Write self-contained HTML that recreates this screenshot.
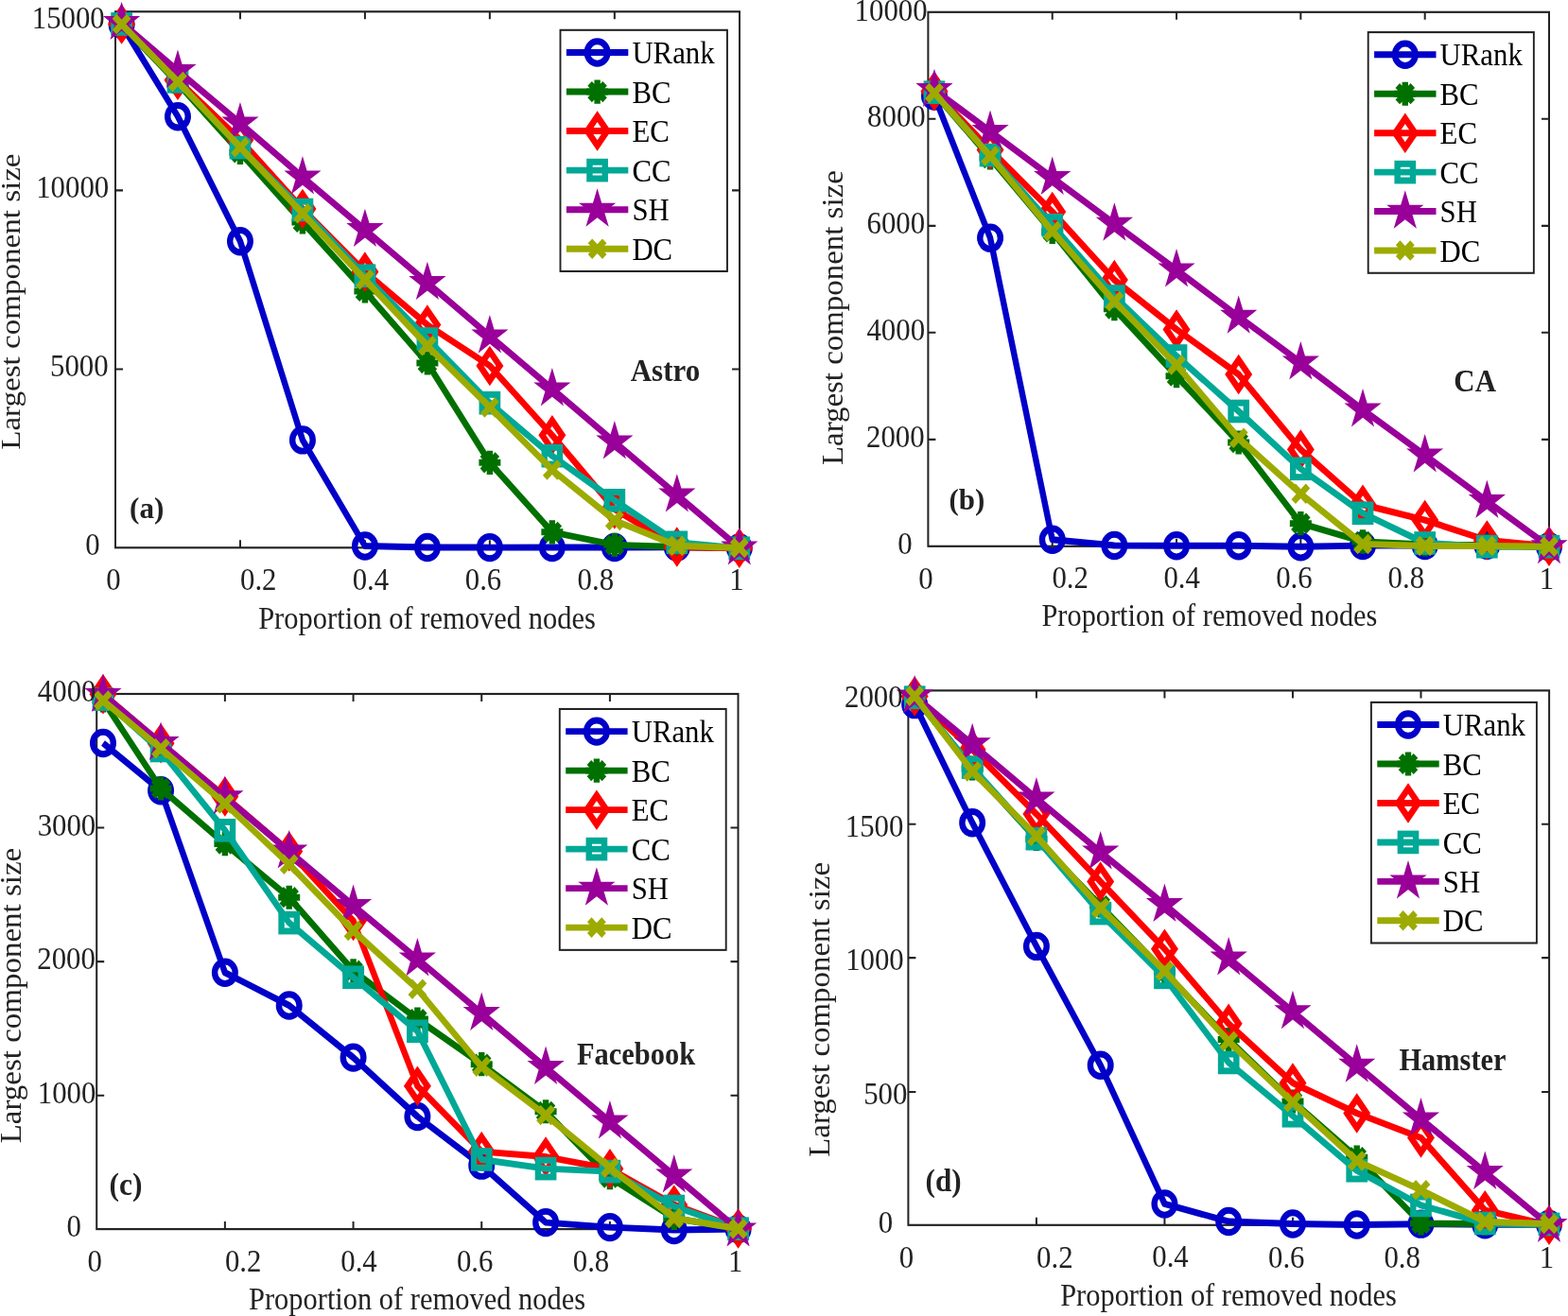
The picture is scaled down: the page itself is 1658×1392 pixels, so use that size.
<!DOCTYPE html><html><head><meta charset="utf-8"><style>html,body{margin:0;padding:0;background:#fff;}svg{display:block;}</style></head><body><svg xmlns="http://www.w3.org/2000/svg" width="1658" height="1392" viewBox="0 0 1658 1392"><rect width="1658" height="1392" fill="#fff"/><g transform="scale(1,1.085)" font-family="Liberation Serif, Times New Roman, serif" fill="#222222"><rect x="122" y="11.34" width="660.00" height="522.58" fill="none" stroke="#222222" stroke-width="2"/>
<path d="M253.96,533.92v-7.37M253.96,11.34v7.37" stroke="#222222" stroke-width="2"/>
<path d="M385.92,533.92v-7.37M385.92,11.34v7.37" stroke="#222222" stroke-width="2"/>
<path d="M517.88,533.92v-7.37M517.88,11.34v7.37" stroke="#222222" stroke-width="2"/>
<path d="M649.84,533.92v-7.37M649.84,11.34v7.37" stroke="#222222" stroke-width="2"/>
<path d="M122,359.91h8M782.0,359.91h-8" stroke="#222222" stroke-width="2"/>
<path d="M122,185.62h8M782.0,185.62h-8" stroke="#222222" stroke-width="2"/>
<polyline points="128.60,23.96 187.98,113.55 253.96,235.21 319.94,428.94 385.92,532.26 451.90,533.64 517.88,533.73 583.86,533.64 649.84,533.64 715.82,533.46 781.80,534.10" fill="none" stroke="#0000c8" stroke-width="6.4" stroke-linejoin="round"/>
<g transform="translate(128.60,23.96)"><circle r="10.8" fill="none" stroke="#0000c8" stroke-width="6.4"/></g>
<g transform="translate(187.98,113.55)"><circle r="10.8" fill="none" stroke="#0000c8" stroke-width="6.4"/></g>
<g transform="translate(253.96,235.21)"><circle r="10.8" fill="none" stroke="#0000c8" stroke-width="6.4"/></g>
<g transform="translate(319.94,428.94)"><circle r="10.8" fill="none" stroke="#0000c8" stroke-width="6.4"/></g>
<g transform="translate(385.92,532.26)"><circle r="10.8" fill="none" stroke="#0000c8" stroke-width="6.4"/></g>
<g transform="translate(451.90,533.64)"><circle r="10.8" fill="none" stroke="#0000c8" stroke-width="6.4"/></g>
<g transform="translate(517.88,533.73)"><circle r="10.8" fill="none" stroke="#0000c8" stroke-width="6.4"/></g>
<g transform="translate(583.86,533.64)"><circle r="10.8" fill="none" stroke="#0000c8" stroke-width="6.4"/></g>
<g transform="translate(649.84,533.64)"><circle r="10.8" fill="none" stroke="#0000c8" stroke-width="6.4"/></g>
<g transform="translate(715.82,533.46)"><circle r="10.8" fill="none" stroke="#0000c8" stroke-width="6.4"/></g>
<g transform="translate(781.80,534.10)"><circle r="10.8" fill="none" stroke="#0000c8" stroke-width="6.4"/></g>
<polyline points="128.60,23.96 187.98,81.11 253.96,148.66 319.94,216.59 385.92,283.87 451.90,353.92 517.88,450.97 583.86,518.71 649.84,531.24 715.82,533.18 781.80,534.10" fill="none" stroke="#007000" stroke-width="6.4" stroke-linejoin="round"/>
<g transform="translate(128.60,23.96)"><path d="M0,-11.6V11.6M-11.5,0H11.5M-7.99,-7.99L7.99,7.99M-7.99,7.99L7.99,-7.99" stroke="#007000" stroke-width="6.4" fill="none"/></g>
<g transform="translate(187.98,81.11)"><path d="M0,-11.6V11.6M-11.5,0H11.5M-7.99,-7.99L7.99,7.99M-7.99,7.99L7.99,-7.99" stroke="#007000" stroke-width="6.4" fill="none"/></g>
<g transform="translate(253.96,148.66)"><path d="M0,-11.6V11.6M-11.5,0H11.5M-7.99,-7.99L7.99,7.99M-7.99,7.99L7.99,-7.99" stroke="#007000" stroke-width="6.4" fill="none"/></g>
<g transform="translate(319.94,216.59)"><path d="M0,-11.6V11.6M-11.5,0H11.5M-7.99,-7.99L7.99,7.99M-7.99,7.99L7.99,-7.99" stroke="#007000" stroke-width="6.4" fill="none"/></g>
<g transform="translate(385.92,283.87)"><path d="M0,-11.6V11.6M-11.5,0H11.5M-7.99,-7.99L7.99,7.99M-7.99,7.99L7.99,-7.99" stroke="#007000" stroke-width="6.4" fill="none"/></g>
<g transform="translate(451.90,353.92)"><path d="M0,-11.6V11.6M-11.5,0H11.5M-7.99,-7.99L7.99,7.99M-7.99,7.99L7.99,-7.99" stroke="#007000" stroke-width="6.4" fill="none"/></g>
<g transform="translate(517.88,450.97)"><path d="M0,-11.6V11.6M-11.5,0H11.5M-7.99,-7.99L7.99,7.99M-7.99,7.99L7.99,-7.99" stroke="#007000" stroke-width="6.4" fill="none"/></g>
<g transform="translate(583.86,518.71)"><path d="M0,-11.6V11.6M-11.5,0H11.5M-7.99,-7.99L7.99,7.99M-7.99,7.99L7.99,-7.99" stroke="#007000" stroke-width="6.4" fill="none"/></g>
<g transform="translate(649.84,531.24)"><path d="M0,-11.6V11.6M-11.5,0H11.5M-7.99,-7.99L7.99,7.99M-7.99,7.99L7.99,-7.99" stroke="#007000" stroke-width="6.4" fill="none"/></g>
<g transform="translate(715.82,533.18)"><path d="M0,-11.6V11.6M-11.5,0H11.5M-7.99,-7.99L7.99,7.99M-7.99,7.99L7.99,-7.99" stroke="#007000" stroke-width="6.4" fill="none"/></g>
<g transform="translate(781.80,534.10)"><path d="M0,-11.6V11.6M-11.5,0H11.5M-7.99,-7.99L7.99,7.99M-7.99,7.99L7.99,-7.99" stroke="#007000" stroke-width="6.4" fill="none"/></g>
<polyline points="128.60,23.59 187.98,78.16 253.96,136.41 319.94,203.69 385.92,265.07 451.90,316.68 517.88,356.59 583.86,424.24 649.84,496.31 715.82,533.27 781.80,534.38" fill="none" stroke="#ff0000" stroke-width="6.4" stroke-linejoin="round"/>
<g transform="translate(128.60,23.59)"><path d="M0,-14.2L10.5,0L0,14.2L-10.5,0Z" fill="none" stroke="#ff0000" stroke-width="6.4" stroke-linejoin="miter" stroke-miterlimit="10"/></g>
<g transform="translate(187.98,78.16)"><path d="M0,-14.2L10.5,0L0,14.2L-10.5,0Z" fill="none" stroke="#ff0000" stroke-width="6.4" stroke-linejoin="miter" stroke-miterlimit="10"/></g>
<g transform="translate(253.96,136.41)"><path d="M0,-14.2L10.5,0L0,14.2L-10.5,0Z" fill="none" stroke="#ff0000" stroke-width="6.4" stroke-linejoin="miter" stroke-miterlimit="10"/></g>
<g transform="translate(319.94,203.69)"><path d="M0,-14.2L10.5,0L0,14.2L-10.5,0Z" fill="none" stroke="#ff0000" stroke-width="6.4" stroke-linejoin="miter" stroke-miterlimit="10"/></g>
<g transform="translate(385.92,265.07)"><path d="M0,-14.2L10.5,0L0,14.2L-10.5,0Z" fill="none" stroke="#ff0000" stroke-width="6.4" stroke-linejoin="miter" stroke-miterlimit="10"/></g>
<g transform="translate(451.90,316.68)"><path d="M0,-14.2L10.5,0L0,14.2L-10.5,0Z" fill="none" stroke="#ff0000" stroke-width="6.4" stroke-linejoin="miter" stroke-miterlimit="10"/></g>
<g transform="translate(517.88,356.59)"><path d="M0,-14.2L10.5,0L0,14.2L-10.5,0Z" fill="none" stroke="#ff0000" stroke-width="6.4" stroke-linejoin="miter" stroke-miterlimit="10"/></g>
<g transform="translate(583.86,424.24)"><path d="M0,-14.2L10.5,0L0,14.2L-10.5,0Z" fill="none" stroke="#ff0000" stroke-width="6.4" stroke-linejoin="miter" stroke-miterlimit="10"/></g>
<g transform="translate(649.84,496.31)"><path d="M0,-14.2L10.5,0L0,14.2L-10.5,0Z" fill="none" stroke="#ff0000" stroke-width="6.4" stroke-linejoin="miter" stroke-miterlimit="10"/></g>
<g transform="translate(715.82,533.27)"><path d="M0,-14.2L10.5,0L0,14.2L-10.5,0Z" fill="none" stroke="#ff0000" stroke-width="6.4" stroke-linejoin="miter" stroke-miterlimit="10"/></g>
<g transform="translate(781.80,534.38)"><path d="M0,-14.2L10.5,0L0,14.2L-10.5,0Z" fill="none" stroke="#ff0000" stroke-width="6.4" stroke-linejoin="miter" stroke-miterlimit="10"/></g>
<polyline points="128.60,23.41 187.98,79.54 253.96,143.87 319.94,204.61 385.92,268.85 451.90,330.41 517.88,392.81 583.86,444.42 649.84,487.83 715.82,528.85 781.80,534.38" fill="none" stroke="#00a896" stroke-width="6.4" stroke-linejoin="round"/>
<g transform="translate(128.60,23.41)"><rect x="-8.15" y="-8.15" width="16.3" height="16.3" fill="none" stroke="#00a896" stroke-width="6.4"/></g>
<g transform="translate(187.98,79.54)"><rect x="-8.15" y="-8.15" width="16.3" height="16.3" fill="none" stroke="#00a896" stroke-width="6.4"/></g>
<g transform="translate(253.96,143.87)"><rect x="-8.15" y="-8.15" width="16.3" height="16.3" fill="none" stroke="#00a896" stroke-width="6.4"/></g>
<g transform="translate(319.94,204.61)"><rect x="-8.15" y="-8.15" width="16.3" height="16.3" fill="none" stroke="#00a896" stroke-width="6.4"/></g>
<g transform="translate(385.92,268.85)"><rect x="-8.15" y="-8.15" width="16.3" height="16.3" fill="none" stroke="#00a896" stroke-width="6.4"/></g>
<g transform="translate(451.90,330.41)"><rect x="-8.15" y="-8.15" width="16.3" height="16.3" fill="none" stroke="#00a896" stroke-width="6.4"/></g>
<g transform="translate(517.88,392.81)"><rect x="-8.15" y="-8.15" width="16.3" height="16.3" fill="none" stroke="#00a896" stroke-width="6.4"/></g>
<g transform="translate(583.86,444.42)"><rect x="-8.15" y="-8.15" width="16.3" height="16.3" fill="none" stroke="#00a896" stroke-width="6.4"/></g>
<g transform="translate(649.84,487.83)"><rect x="-8.15" y="-8.15" width="16.3" height="16.3" fill="none" stroke="#00a896" stroke-width="6.4"/></g>
<g transform="translate(715.82,528.85)"><rect x="-8.15" y="-8.15" width="16.3" height="16.3" fill="none" stroke="#00a896" stroke-width="6.4"/></g>
<g transform="translate(781.80,534.38)"><rect x="-8.15" y="-8.15" width="16.3" height="16.3" fill="none" stroke="#00a896" stroke-width="6.4"/></g>
<polyline points="128.60,22.12 187.98,68.94 253.96,120.09 319.94,172.63 385.92,223.96 451.90,275.58 517.88,327.47 583.86,379.08 649.84,430.78 715.82,482.49 781.80,534.10" fill="none" stroke="#990099" stroke-width="6.4" stroke-linejoin="round"/>
<g transform="translate(128.60,22.12)"><polygon points="0.00,-20.60 -4.62,-6.37 -19.59,-6.37 -7.48,2.43 -12.11,16.67 -0.00,7.87 12.11,16.67 7.48,2.43 19.59,-6.37 4.62,-6.37" fill="#990099"/></g>
<g transform="translate(187.98,68.94)"><polygon points="0.00,-20.60 -4.62,-6.37 -19.59,-6.37 -7.48,2.43 -12.11,16.67 -0.00,7.87 12.11,16.67 7.48,2.43 19.59,-6.37 4.62,-6.37" fill="#990099"/></g>
<g transform="translate(253.96,120.09)"><polygon points="0.00,-20.60 -4.62,-6.37 -19.59,-6.37 -7.48,2.43 -12.11,16.67 -0.00,7.87 12.11,16.67 7.48,2.43 19.59,-6.37 4.62,-6.37" fill="#990099"/></g>
<g transform="translate(319.94,172.63)"><polygon points="0.00,-20.60 -4.62,-6.37 -19.59,-6.37 -7.48,2.43 -12.11,16.67 -0.00,7.87 12.11,16.67 7.48,2.43 19.59,-6.37 4.62,-6.37" fill="#990099"/></g>
<g transform="translate(385.92,223.96)"><polygon points="0.00,-20.60 -4.62,-6.37 -19.59,-6.37 -7.48,2.43 -12.11,16.67 -0.00,7.87 12.11,16.67 7.48,2.43 19.59,-6.37 4.62,-6.37" fill="#990099"/></g>
<g transform="translate(451.90,275.58)"><polygon points="0.00,-20.60 -4.62,-6.37 -19.59,-6.37 -7.48,2.43 -12.11,16.67 -0.00,7.87 12.11,16.67 7.48,2.43 19.59,-6.37 4.62,-6.37" fill="#990099"/></g>
<g transform="translate(517.88,327.47)"><polygon points="0.00,-20.60 -4.62,-6.37 -19.59,-6.37 -7.48,2.43 -12.11,16.67 -0.00,7.87 12.11,16.67 7.48,2.43 19.59,-6.37 4.62,-6.37" fill="#990099"/></g>
<g transform="translate(583.86,379.08)"><polygon points="0.00,-20.60 -4.62,-6.37 -19.59,-6.37 -7.48,2.43 -12.11,16.67 -0.00,7.87 12.11,16.67 7.48,2.43 19.59,-6.37 4.62,-6.37" fill="#990099"/></g>
<g transform="translate(649.84,430.78)"><polygon points="0.00,-20.60 -4.62,-6.37 -19.59,-6.37 -7.48,2.43 -12.11,16.67 -0.00,7.87 12.11,16.67 7.48,2.43 19.59,-6.37 4.62,-6.37" fill="#990099"/></g>
<g transform="translate(715.82,482.49)"><polygon points="0.00,-20.60 -4.62,-6.37 -19.59,-6.37 -7.48,2.43 -12.11,16.67 -0.00,7.87 12.11,16.67 7.48,2.43 19.59,-6.37 4.62,-6.37" fill="#990099"/></g>
<g transform="translate(781.80,534.10)"><polygon points="0.00,-20.60 -4.62,-6.37 -19.59,-6.37 -7.48,2.43 -12.11,16.67 -0.00,7.87 12.11,16.67 7.48,2.43 19.59,-6.37 4.62,-6.37" fill="#990099"/></g>
<polyline points="128.60,23.59 187.98,79.63 253.96,143.59 319.94,208.11 385.92,272.63 451.90,337.14 517.88,397.14 583.86,458.06 649.84,507.28 715.82,532.07 781.80,534.10" fill="none" stroke="#9dab00" stroke-width="6.4" stroke-linejoin="round"/>
<g transform="translate(128.60,23.59)"><path d="M-7.65,-7.65L7.65,7.65M-7.65,7.65L7.65,-7.65" stroke="#9dab00" stroke-width="6.4" fill="none"/></g>
<g transform="translate(187.98,79.63)"><path d="M-7.65,-7.65L7.65,7.65M-7.65,7.65L7.65,-7.65" stroke="#9dab00" stroke-width="6.4" fill="none"/></g>
<g transform="translate(253.96,143.59)"><path d="M-7.65,-7.65L7.65,7.65M-7.65,7.65L7.65,-7.65" stroke="#9dab00" stroke-width="6.4" fill="none"/></g>
<g transform="translate(319.94,208.11)"><path d="M-7.65,-7.65L7.65,7.65M-7.65,7.65L7.65,-7.65" stroke="#9dab00" stroke-width="6.4" fill="none"/></g>
<g transform="translate(385.92,272.63)"><path d="M-7.65,-7.65L7.65,7.65M-7.65,7.65L7.65,-7.65" stroke="#9dab00" stroke-width="6.4" fill="none"/></g>
<g transform="translate(451.90,337.14)"><path d="M-7.65,-7.65L7.65,7.65M-7.65,7.65L7.65,-7.65" stroke="#9dab00" stroke-width="6.4" fill="none"/></g>
<g transform="translate(517.88,397.14)"><path d="M-7.65,-7.65L7.65,7.65M-7.65,7.65L7.65,-7.65" stroke="#9dab00" stroke-width="6.4" fill="none"/></g>
<g transform="translate(583.86,458.06)"><path d="M-7.65,-7.65L7.65,7.65M-7.65,7.65L7.65,-7.65" stroke="#9dab00" stroke-width="6.4" fill="none"/></g>
<g transform="translate(649.84,507.28)"><path d="M-7.65,-7.65L7.65,7.65M-7.65,7.65L7.65,-7.65" stroke="#9dab00" stroke-width="6.4" fill="none"/></g>
<g transform="translate(715.82,532.07)"><path d="M-7.65,-7.65L7.65,7.65M-7.65,7.65L7.65,-7.65" stroke="#9dab00" stroke-width="6.4" fill="none"/></g>
<g transform="translate(781.80,534.10)"><path d="M-7.65,-7.65L7.65,7.65M-7.65,7.65L7.65,-7.65" stroke="#9dab00" stroke-width="6.4" fill="none"/></g>
<rect x="592.5" y="29.31" width="176.45" height="235.16" fill="#fff" stroke="#222222" stroke-width="1.9"/>
<path d="M598.90,51.16H664.30" stroke="#0000c8" stroke-width="6.4"/>
<g transform="translate(631.60,51.16)"><circle r="10.8" fill="none" stroke="#0000c8" stroke-width="6.4"/></g>
<text transform="translate(668.38,61.94) scale(1.0,1)" font-size="30.8" fill="#000">URank</text>
<path d="M598.90,89.44H664.30" stroke="#007000" stroke-width="6.4"/>
<g transform="translate(631.60,89.44)"><path d="M0,-11.6V11.6M-11.5,0H11.5M-7.99,-7.99L7.99,7.99M-7.99,7.99L7.99,-7.99" stroke="#007000" stroke-width="6.4" fill="none"/></g>
<text transform="translate(668.38,100.22) scale(1.0,1)" font-size="30.8" fill="#000">BC</text>
<path d="M598.90,127.72H664.30" stroke="#ff0000" stroke-width="6.4"/>
<g transform="translate(631.60,127.72)"><path d="M0,-14.2L10.5,0L0,14.2L-10.5,0Z" fill="none" stroke="#ff0000" stroke-width="6.4" stroke-linejoin="miter" stroke-miterlimit="10"/></g>
<text transform="translate(668.38,138.51) scale(1.0,1)" font-size="30.8" fill="#000">EC</text>
<path d="M598.90,166.01H664.30" stroke="#00a896" stroke-width="6.4"/>
<g transform="translate(631.60,166.01)"><rect x="-8.15" y="-8.15" width="16.3" height="16.3" fill="none" stroke="#00a896" stroke-width="6.4"/></g>
<text transform="translate(668.38,176.79) scale(1.0,1)" font-size="30.8" fill="#000">CC</text>
<path d="M598.90,204.29H664.30" stroke="#990099" stroke-width="6.4"/>
<g transform="translate(631.60,204.29)"><polygon points="0.00,-20.60 -4.62,-6.37 -19.59,-6.37 -7.48,2.43 -12.11,16.67 -0.00,7.87 12.11,16.67 7.48,2.43 19.59,-6.37 4.62,-6.37" fill="#990099"/></g>
<text transform="translate(668.38,215.08) scale(1.0,1)" font-size="30.8" fill="#000">SH</text>
<path d="M598.90,242.58H664.30" stroke="#9dab00" stroke-width="6.4"/>
<g transform="translate(631.60,242.58)"><path d="M-7.65,-7.65L7.65,7.65M-7.65,7.65L7.65,-7.65" stroke="#9dab00" stroke-width="6.4" fill="none"/></g>
<text transform="translate(668.38,253.36) scale(1.0,1)" font-size="30.8" fill="#000">DC</text>
<text transform="translate(33.77,27.31) scale(0.975,1)" font-size="31.6">15000</text>
<text transform="translate(38.21,192.78) scale(0.975,1)" font-size="31.6">10000</text>
<text transform="translate(52.98,367.26) scale(0.975,1)" font-size="31.6">5000</text>
<text transform="translate(90.20,541.46) scale(0.975,1)" font-size="31.6">0</text>
<text transform="translate(112.20,575.42) scale(0.975,1)" font-size="31.6">0</text>
<text transform="translate(254.01,575.06) scale(0.975,1)" font-size="31.6">0.2</text>
<text transform="translate(372.65,575.06) scale(0.975,1)" font-size="31.6">0.4</text>
<text transform="translate(491.73,574.92) scale(0.975,1)" font-size="31.6">0.6</text>
<text transform="translate(610.54,575.06) scale(0.975,1)" font-size="31.6">0.8</text>
<text transform="translate(771.32,575.22) scale(0.975,1)" font-size="31.6">1</text>
<text transform="translate(273.13,612.49) scale(0.9835,1)" font-size="31.03" font-weight="normal" >Proportion of removed nodes</text>
<text transform="translate(137.10,505.24) scale(1.0520,1)" font-size="29.55" font-weight="bold" >(a)</text>
<text transform="translate(666.74,371.24) scale(0.9816,1)" font-size="31.56" font-weight="bold" >Astro</text>
<text transform="translate(21.10,438.52) rotate(-90) scale(0.9995,1)" font-size="30.49">Largest component size</text>
<rect x="981.4" y="11.80" width="656.60" height="520.74" fill="none" stroke="#222222" stroke-width="2"/>
<path d="M1112.72,532.53v-7.37M1112.72,11.80v7.37" stroke="#222222" stroke-width="2"/>
<path d="M1244.04,532.53v-7.37M1244.04,11.80v7.37" stroke="#222222" stroke-width="2"/>
<path d="M1375.36,532.53v-7.37M1375.36,11.80v7.37" stroke="#222222" stroke-width="2"/>
<path d="M1506.68,532.53v-7.37M1506.68,11.80v7.37" stroke="#222222" stroke-width="2"/>
<path d="M981.4,428.48h8M1638,428.48h-8" stroke="#222222" stroke-width="2"/>
<path d="M981.4,324.19h8M1638,324.19h-8" stroke="#222222" stroke-width="2"/>
<path d="M981.4,220.18h8M1638,220.18h-8" stroke="#222222" stroke-width="2"/>
<path d="M981.4,115.90h8M1638,115.90h-8" stroke="#222222" stroke-width="2"/>
<polyline points="987.97,93.55 1047.06,231.94 1112.72,526.08 1178.38,531.80 1244.04,531.98 1309.70,531.98 1375.36,532.90 1441.02,531.89 1506.68,531.89 1572.34,531.52 1638.00,532.90" fill="none" stroke="#0000c8" stroke-width="6.4" stroke-linejoin="round"/>
<g transform="translate(987.97,93.55)"><circle r="10.8" fill="none" stroke="#0000c8" stroke-width="6.4"/></g>
<g transform="translate(1047.06,231.94)"><circle r="10.8" fill="none" stroke="#0000c8" stroke-width="6.4"/></g>
<g transform="translate(1112.72,526.08)"><circle r="10.8" fill="none" stroke="#0000c8" stroke-width="6.4"/></g>
<g transform="translate(1178.38,531.80)"><circle r="10.8" fill="none" stroke="#0000c8" stroke-width="6.4"/></g>
<g transform="translate(1244.04,531.98)"><circle r="10.8" fill="none" stroke="#0000c8" stroke-width="6.4"/></g>
<g transform="translate(1309.70,531.98)"><circle r="10.8" fill="none" stroke="#0000c8" stroke-width="6.4"/></g>
<g transform="translate(1375.36,532.90)"><circle r="10.8" fill="none" stroke="#0000c8" stroke-width="6.4"/></g>
<g transform="translate(1441.02,531.89)"><circle r="10.8" fill="none" stroke="#0000c8" stroke-width="6.4"/></g>
<g transform="translate(1506.68,531.89)"><circle r="10.8" fill="none" stroke="#0000c8" stroke-width="6.4"/></g>
<g transform="translate(1572.34,531.52)"><circle r="10.8" fill="none" stroke="#0000c8" stroke-width="6.4"/></g>
<g transform="translate(1638.00,532.90)"><circle r="10.8" fill="none" stroke="#0000c8" stroke-width="6.4"/></g>
<polyline points="987.97,90.78 1047.06,153.92 1112.72,226.08 1178.38,301.15 1244.04,366.54 1309.70,431.34 1375.36,510.32 1441.02,528.06 1506.68,530.88 1572.34,531.80 1638.00,532.90" fill="none" stroke="#007000" stroke-width="6.4" stroke-linejoin="round"/>
<g transform="translate(987.97,90.78)"><path d="M0,-11.6V11.6M-11.5,0H11.5M-7.99,-7.99L7.99,7.99M-7.99,7.99L7.99,-7.99" stroke="#007000" stroke-width="6.4" fill="none"/></g>
<g transform="translate(1047.06,153.92)"><path d="M0,-11.6V11.6M-11.5,0H11.5M-7.99,-7.99L7.99,7.99M-7.99,7.99L7.99,-7.99" stroke="#007000" stroke-width="6.4" fill="none"/></g>
<g transform="translate(1112.72,226.08)"><path d="M0,-11.6V11.6M-11.5,0H11.5M-7.99,-7.99L7.99,7.99M-7.99,7.99L7.99,-7.99" stroke="#007000" stroke-width="6.4" fill="none"/></g>
<g transform="translate(1178.38,301.15)"><path d="M0,-11.6V11.6M-11.5,0H11.5M-7.99,-7.99L7.99,7.99M-7.99,7.99L7.99,-7.99" stroke="#007000" stroke-width="6.4" fill="none"/></g>
<g transform="translate(1244.04,366.54)"><path d="M0,-11.6V11.6M-11.5,0H11.5M-7.99,-7.99L7.99,7.99M-7.99,7.99L7.99,-7.99" stroke="#007000" stroke-width="6.4" fill="none"/></g>
<g transform="translate(1309.70,431.34)"><path d="M0,-11.6V11.6M-11.5,0H11.5M-7.99,-7.99L7.99,7.99M-7.99,7.99L7.99,-7.99" stroke="#007000" stroke-width="6.4" fill="none"/></g>
<g transform="translate(1375.36,510.32)"><path d="M0,-11.6V11.6M-11.5,0H11.5M-7.99,-7.99L7.99,7.99M-7.99,7.99L7.99,-7.99" stroke="#007000" stroke-width="6.4" fill="none"/></g>
<g transform="translate(1441.02,528.06)"><path d="M0,-11.6V11.6M-11.5,0H11.5M-7.99,-7.99L7.99,7.99M-7.99,7.99L7.99,-7.99" stroke="#007000" stroke-width="6.4" fill="none"/></g>
<g transform="translate(1506.68,530.88)"><path d="M0,-11.6V11.6M-11.5,0H11.5M-7.99,-7.99L7.99,7.99M-7.99,7.99L7.99,-7.99" stroke="#007000" stroke-width="6.4" fill="none"/></g>
<g transform="translate(1572.34,531.80)"><path d="M0,-11.6V11.6M-11.5,0H11.5M-7.99,-7.99L7.99,7.99M-7.99,7.99L7.99,-7.99" stroke="#007000" stroke-width="6.4" fill="none"/></g>
<g transform="translate(1638.00,532.90)"><path d="M0,-11.6V11.6M-11.5,0H11.5M-7.99,-7.99L7.99,7.99M-7.99,7.99L7.99,-7.99" stroke="#007000" stroke-width="6.4" fill="none"/></g>
<polyline points="987.97,88.94 1047.06,145.99 1112.72,206.45 1178.38,272.90 1244.04,321.11 1309.70,364.98 1375.36,438.25 1441.02,491.94 1506.68,507.00 1572.34,526.77 1638.00,532.44" fill="none" stroke="#ff0000" stroke-width="6.4" stroke-linejoin="round"/>
<g transform="translate(987.97,88.94)"><path d="M0,-14.2L10.5,0L0,14.2L-10.5,0Z" fill="none" stroke="#ff0000" stroke-width="6.4" stroke-linejoin="miter" stroke-miterlimit="10"/></g>
<g transform="translate(1047.06,145.99)"><path d="M0,-14.2L10.5,0L0,14.2L-10.5,0Z" fill="none" stroke="#ff0000" stroke-width="6.4" stroke-linejoin="miter" stroke-miterlimit="10"/></g>
<g transform="translate(1112.72,206.45)"><path d="M0,-14.2L10.5,0L0,14.2L-10.5,0Z" fill="none" stroke="#ff0000" stroke-width="6.4" stroke-linejoin="miter" stroke-miterlimit="10"/></g>
<g transform="translate(1178.38,272.90)"><path d="M0,-14.2L10.5,0L0,14.2L-10.5,0Z" fill="none" stroke="#ff0000" stroke-width="6.4" stroke-linejoin="miter" stroke-miterlimit="10"/></g>
<g transform="translate(1244.04,321.11)"><path d="M0,-14.2L10.5,0L0,14.2L-10.5,0Z" fill="none" stroke="#ff0000" stroke-width="6.4" stroke-linejoin="miter" stroke-miterlimit="10"/></g>
<g transform="translate(1309.70,364.98)"><path d="M0,-14.2L10.5,0L0,14.2L-10.5,0Z" fill="none" stroke="#ff0000" stroke-width="6.4" stroke-linejoin="miter" stroke-miterlimit="10"/></g>
<g transform="translate(1375.36,438.25)"><path d="M0,-14.2L10.5,0L0,14.2L-10.5,0Z" fill="none" stroke="#ff0000" stroke-width="6.4" stroke-linejoin="miter" stroke-miterlimit="10"/></g>
<g transform="translate(1441.02,491.94)"><path d="M0,-14.2L10.5,0L0,14.2L-10.5,0Z" fill="none" stroke="#ff0000" stroke-width="6.4" stroke-linejoin="miter" stroke-miterlimit="10"/></g>
<g transform="translate(1506.68,507.00)"><path d="M0,-14.2L10.5,0L0,14.2L-10.5,0Z" fill="none" stroke="#ff0000" stroke-width="6.4" stroke-linejoin="miter" stroke-miterlimit="10"/></g>
<g transform="translate(1572.34,526.77)"><path d="M0,-14.2L10.5,0L0,14.2L-10.5,0Z" fill="none" stroke="#ff0000" stroke-width="6.4" stroke-linejoin="miter" stroke-miterlimit="10"/></g>
<g transform="translate(1638.00,532.44)"><path d="M0,-14.2L10.5,0L0,14.2L-10.5,0Z" fill="none" stroke="#ff0000" stroke-width="6.4" stroke-linejoin="miter" stroke-miterlimit="10"/></g>
<polyline points="987.97,90.05 1047.06,151.24 1112.72,219.54 1178.38,288.94 1244.04,347.00 1309.70,400.92 1375.36,456.96 1441.02,500.28 1506.68,529.49 1572.34,532.90 1638.00,532.90" fill="none" stroke="#00a896" stroke-width="6.4" stroke-linejoin="round"/>
<g transform="translate(987.97,90.05)"><rect x="-8.15" y="-8.15" width="16.3" height="16.3" fill="none" stroke="#00a896" stroke-width="6.4"/></g>
<g transform="translate(1047.06,151.24)"><rect x="-8.15" y="-8.15" width="16.3" height="16.3" fill="none" stroke="#00a896" stroke-width="6.4"/></g>
<g transform="translate(1112.72,219.54)"><rect x="-8.15" y="-8.15" width="16.3" height="16.3" fill="none" stroke="#00a896" stroke-width="6.4"/></g>
<g transform="translate(1178.38,288.94)"><rect x="-8.15" y="-8.15" width="16.3" height="16.3" fill="none" stroke="#00a896" stroke-width="6.4"/></g>
<g transform="translate(1244.04,347.00)"><rect x="-8.15" y="-8.15" width="16.3" height="16.3" fill="none" stroke="#00a896" stroke-width="6.4"/></g>
<g transform="translate(1309.70,400.92)"><rect x="-8.15" y="-8.15" width="16.3" height="16.3" fill="none" stroke="#00a896" stroke-width="6.4"/></g>
<g transform="translate(1375.36,456.96)"><rect x="-8.15" y="-8.15" width="16.3" height="16.3" fill="none" stroke="#00a896" stroke-width="6.4"/></g>
<g transform="translate(1441.02,500.28)"><rect x="-8.15" y="-8.15" width="16.3" height="16.3" fill="none" stroke="#00a896" stroke-width="6.4"/></g>
<g transform="translate(1506.68,529.49)"><rect x="-8.15" y="-8.15" width="16.3" height="16.3" fill="none" stroke="#00a896" stroke-width="6.4"/></g>
<g transform="translate(1572.34,532.90)"><rect x="-8.15" y="-8.15" width="16.3" height="16.3" fill="none" stroke="#00a896" stroke-width="6.4"/></g>
<g transform="translate(1638.00,532.90)"><rect x="-8.15" y="-8.15" width="16.3" height="16.3" fill="none" stroke="#00a896" stroke-width="6.4"/></g>
<polyline points="987.97,87.56 1047.06,128.02 1112.72,173.09 1178.38,218.11 1244.04,263.09 1309.70,308.53 1375.36,353.41 1441.02,399.35 1506.68,443.59 1572.34,488.48 1638.00,532.90" fill="none" stroke="#990099" stroke-width="6.4" stroke-linejoin="round"/>
<g transform="translate(987.97,87.56)"><polygon points="0.00,-20.60 -4.62,-6.37 -19.59,-6.37 -7.48,2.43 -12.11,16.67 -0.00,7.87 12.11,16.67 7.48,2.43 19.59,-6.37 4.62,-6.37" fill="#990099"/></g>
<g transform="translate(1047.06,128.02)"><polygon points="0.00,-20.60 -4.62,-6.37 -19.59,-6.37 -7.48,2.43 -12.11,16.67 -0.00,7.87 12.11,16.67 7.48,2.43 19.59,-6.37 4.62,-6.37" fill="#990099"/></g>
<g transform="translate(1112.72,173.09)"><polygon points="0.00,-20.60 -4.62,-6.37 -19.59,-6.37 -7.48,2.43 -12.11,16.67 -0.00,7.87 12.11,16.67 7.48,2.43 19.59,-6.37 4.62,-6.37" fill="#990099"/></g>
<g transform="translate(1178.38,218.11)"><polygon points="0.00,-20.60 -4.62,-6.37 -19.59,-6.37 -7.48,2.43 -12.11,16.67 -0.00,7.87 12.11,16.67 7.48,2.43 19.59,-6.37 4.62,-6.37" fill="#990099"/></g>
<g transform="translate(1244.04,263.09)"><polygon points="0.00,-20.60 -4.62,-6.37 -19.59,-6.37 -7.48,2.43 -12.11,16.67 -0.00,7.87 12.11,16.67 7.48,2.43 19.59,-6.37 4.62,-6.37" fill="#990099"/></g>
<g transform="translate(1309.70,308.53)"><polygon points="0.00,-20.60 -4.62,-6.37 -19.59,-6.37 -7.48,2.43 -12.11,16.67 -0.00,7.87 12.11,16.67 7.48,2.43 19.59,-6.37 4.62,-6.37" fill="#990099"/></g>
<g transform="translate(1375.36,353.41)"><polygon points="0.00,-20.60 -4.62,-6.37 -19.59,-6.37 -7.48,2.43 -12.11,16.67 -0.00,7.87 12.11,16.67 7.48,2.43 19.59,-6.37 4.62,-6.37" fill="#990099"/></g>
<g transform="translate(1441.02,399.35)"><polygon points="0.00,-20.60 -4.62,-6.37 -19.59,-6.37 -7.48,2.43 -12.11,16.67 -0.00,7.87 12.11,16.67 7.48,2.43 19.59,-6.37 4.62,-6.37" fill="#990099"/></g>
<g transform="translate(1506.68,443.59)"><polygon points="0.00,-20.60 -4.62,-6.37 -19.59,-6.37 -7.48,2.43 -12.11,16.67 -0.00,7.87 12.11,16.67 7.48,2.43 19.59,-6.37 4.62,-6.37" fill="#990099"/></g>
<g transform="translate(1572.34,488.48)"><polygon points="0.00,-20.60 -4.62,-6.37 -19.59,-6.37 -7.48,2.43 -12.11,16.67 -0.00,7.87 12.11,16.67 7.48,2.43 19.59,-6.37 4.62,-6.37" fill="#990099"/></g>
<g transform="translate(1638.00,532.90)"><polygon points="0.00,-20.60 -4.62,-6.37 -19.59,-6.37 -7.48,2.43 -12.11,16.67 -0.00,7.87 12.11,16.67 7.48,2.43 19.59,-6.37 4.62,-6.37" fill="#990099"/></g>
<polyline points="987.97,90.69 1047.06,152.07 1112.72,225.44 1178.38,293.82 1244.04,355.76 1309.70,427.00 1375.36,481.38 1441.02,530.32 1506.68,532.26 1572.34,532.26 1638.00,532.90" fill="none" stroke="#9dab00" stroke-width="6.4" stroke-linejoin="round"/>
<g transform="translate(987.97,90.69)"><path d="M-7.65,-7.65L7.65,7.65M-7.65,7.65L7.65,-7.65" stroke="#9dab00" stroke-width="6.4" fill="none"/></g>
<g transform="translate(1047.06,152.07)"><path d="M-7.65,-7.65L7.65,7.65M-7.65,7.65L7.65,-7.65" stroke="#9dab00" stroke-width="6.4" fill="none"/></g>
<g transform="translate(1112.72,225.44)"><path d="M-7.65,-7.65L7.65,7.65M-7.65,7.65L7.65,-7.65" stroke="#9dab00" stroke-width="6.4" fill="none"/></g>
<g transform="translate(1178.38,293.82)"><path d="M-7.65,-7.65L7.65,7.65M-7.65,7.65L7.65,-7.65" stroke="#9dab00" stroke-width="6.4" fill="none"/></g>
<g transform="translate(1244.04,355.76)"><path d="M-7.65,-7.65L7.65,7.65M-7.65,7.65L7.65,-7.65" stroke="#9dab00" stroke-width="6.4" fill="none"/></g>
<g transform="translate(1309.70,427.00)"><path d="M-7.65,-7.65L7.65,7.65M-7.65,7.65L7.65,-7.65" stroke="#9dab00" stroke-width="6.4" fill="none"/></g>
<g transform="translate(1375.36,481.38)"><path d="M-7.65,-7.65L7.65,7.65M-7.65,7.65L7.65,-7.65" stroke="#9dab00" stroke-width="6.4" fill="none"/></g>
<g transform="translate(1441.02,530.32)"><path d="M-7.65,-7.65L7.65,7.65M-7.65,7.65L7.65,-7.65" stroke="#9dab00" stroke-width="6.4" fill="none"/></g>
<g transform="translate(1506.68,532.26)"><path d="M-7.65,-7.65L7.65,7.65M-7.65,7.65L7.65,-7.65" stroke="#9dab00" stroke-width="6.4" fill="none"/></g>
<g transform="translate(1572.34,532.26)"><path d="M-7.65,-7.65L7.65,7.65M-7.65,7.65L7.65,-7.65" stroke="#9dab00" stroke-width="6.4" fill="none"/></g>
<g transform="translate(1638.00,532.90)"><path d="M-7.65,-7.65L7.65,7.65M-7.65,7.65L7.65,-7.65" stroke="#9dab00" stroke-width="6.4" fill="none"/></g>
<rect x="1446.7" y="31.43" width="175.15" height="234.72" fill="#fff" stroke="#222222" stroke-width="1.9"/>
<path d="M1453.10,53.23H1518.50" stroke="#0000c8" stroke-width="6.4"/>
<g transform="translate(1485.80,53.23)"><circle r="10.8" fill="none" stroke="#0000c8" stroke-width="6.4"/></g>
<text transform="translate(1522.58,64.02) scale(1.0,1)" font-size="30.8" fill="#000">URank</text>
<path d="M1453.10,91.45H1518.50" stroke="#007000" stroke-width="6.4"/>
<g transform="translate(1485.80,91.45)"><path d="M0,-11.6V11.6M-11.5,0H11.5M-7.99,-7.99L7.99,7.99M-7.99,7.99L7.99,-7.99" stroke="#007000" stroke-width="6.4" fill="none"/></g>
<text transform="translate(1522.58,102.23) scale(1.0,1)" font-size="30.8" fill="#000">BC</text>
<path d="M1453.10,129.66H1518.50" stroke="#ff0000" stroke-width="6.4"/>
<g transform="translate(1485.80,129.66)"><path d="M0,-14.2L10.5,0L0,14.2L-10.5,0Z" fill="none" stroke="#ff0000" stroke-width="6.4" stroke-linejoin="miter" stroke-miterlimit="10"/></g>
<text transform="translate(1522.58,140.44) scale(1.0,1)" font-size="30.8" fill="#000">EC</text>
<path d="M1453.10,167.87H1518.50" stroke="#00a896" stroke-width="6.4"/>
<g transform="translate(1485.80,167.87)"><rect x="-8.15" y="-8.15" width="16.3" height="16.3" fill="none" stroke="#00a896" stroke-width="6.4"/></g>
<text transform="translate(1522.58,178.65) scale(1.0,1)" font-size="30.8" fill="#000">CC</text>
<path d="M1453.10,206.08H1518.50" stroke="#990099" stroke-width="6.4"/>
<g transform="translate(1485.80,206.08)"><polygon points="0.00,-20.60 -4.62,-6.37 -19.59,-6.37 -7.48,2.43 -12.11,16.67 -0.00,7.87 12.11,16.67 7.48,2.43 19.59,-6.37 4.62,-6.37" fill="#990099"/></g>
<text transform="translate(1522.58,216.87) scale(1.0,1)" font-size="30.8" fill="#000">SH</text>
<path d="M1453.10,244.30H1518.50" stroke="#9dab00" stroke-width="6.4"/>
<g transform="translate(1485.80,244.30)"><path d="M-7.65,-7.65L7.65,7.65M-7.65,7.65L7.65,-7.65" stroke="#9dab00" stroke-width="6.4" fill="none"/></g>
<text transform="translate(1522.58,255.08) scale(1.0,1)" font-size="30.8" fill="#000">DC</text>
<text transform="translate(903.59,20.53) scale(0.975,1)" font-size="31.6">10000</text>
<text transform="translate(917.09,123.44) scale(0.975,1)" font-size="31.6">8000</text>
<text transform="translate(916.51,227.58) scale(0.975,1)" font-size="31.6">6000</text>
<text transform="translate(916.46,331.78) scale(0.975,1)" font-size="31.6">4000</text>
<text transform="translate(916.07,435.69) scale(0.975,1)" font-size="31.6">2000</text>
<text transform="translate(949.30,539.80) scale(0.975,1)" font-size="31.6">0</text>
<text transform="translate(971.15,573.81) scale(0.975,1)" font-size="31.6">0</text>
<text transform="translate(1112.41,573.73) scale(0.975,1)" font-size="31.6">0.2</text>
<text transform="translate(1230.47,573.54) scale(0.975,1)" font-size="31.6">0.4</text>
<text transform="translate(1349.13,573.73) scale(0.975,1)" font-size="31.6">0.6</text>
<text transform="translate(1467.59,573.73) scale(0.975,1)" font-size="31.6">0.8</text>
<text transform="translate(1627.67,573.88) scale(0.975,1)" font-size="31.6">1</text>
<text transform="translate(1101.49,609.68) scale(0.9740,1)" font-size="31.17" font-weight="normal" >Proportion of removed nodes</text>
<text transform="translate(1003.56,497.02) scale(1.0428,1)" font-size="29.66" font-weight="bold" >(b)</text>
<text transform="translate(1537.36,381.47) scale(0.9742,1)" font-size="31.70" font-weight="bold" >CA</text>
<text transform="translate(890.70,453.49) rotate(-90) scale(0.9683,1)" font-size="31.31">Largest component size</text>
<rect x="102.2" y="676.50" width="678.30" height="521.75" fill="none" stroke="#222222" stroke-width="2"/>
<path d="M237.88,1198.25v-7.37M237.88,676.50v7.37" stroke="#222222" stroke-width="2"/>
<path d="M373.56,1198.25v-7.37M373.56,676.50v7.37" stroke="#222222" stroke-width="2"/>
<path d="M509.24,1198.25v-7.37M509.24,676.50v7.37" stroke="#222222" stroke-width="2"/>
<path d="M644.92,1198.25v-7.37M644.92,676.50v7.37" stroke="#222222" stroke-width="2"/>
<path d="M102.2,1067.97h8M780.5,1067.97h-8" stroke="#222222" stroke-width="2"/>
<path d="M102.2,937.51h8M780.5,937.51h-8" stroke="#222222" stroke-width="2"/>
<path d="M102.2,806.91h8M780.5,806.91h-8" stroke="#222222" stroke-width="2"/>
<polyline points="108.98,724.42 170.04,770.78 237.88,948.16 305.72,980.18 373.56,1030.97 441.40,1088.48 509.24,1136.08 577.08,1191.80 644.92,1196.41 712.76,1199.08 780.60,1198.16" fill="none" stroke="#0000c8" stroke-width="6.4" stroke-linejoin="round"/>
<g transform="translate(108.98,724.42)"><circle r="10.8" fill="none" stroke="#0000c8" stroke-width="6.4"/></g>
<g transform="translate(170.04,770.78)"><circle r="10.8" fill="none" stroke="#0000c8" stroke-width="6.4"/></g>
<g transform="translate(237.88,948.16)"><circle r="10.8" fill="none" stroke="#0000c8" stroke-width="6.4"/></g>
<g transform="translate(305.72,980.18)"><circle r="10.8" fill="none" stroke="#0000c8" stroke-width="6.4"/></g>
<g transform="translate(373.56,1030.97)"><circle r="10.8" fill="none" stroke="#0000c8" stroke-width="6.4"/></g>
<g transform="translate(441.40,1088.48)"><circle r="10.8" fill="none" stroke="#0000c8" stroke-width="6.4"/></g>
<g transform="translate(509.24,1136.08)"><circle r="10.8" fill="none" stroke="#0000c8" stroke-width="6.4"/></g>
<g transform="translate(577.08,1191.80)"><circle r="10.8" fill="none" stroke="#0000c8" stroke-width="6.4"/></g>
<g transform="translate(644.92,1196.41)"><circle r="10.8" fill="none" stroke="#0000c8" stroke-width="6.4"/></g>
<g transform="translate(712.76,1199.08)"><circle r="10.8" fill="none" stroke="#0000c8" stroke-width="6.4"/></g>
<g transform="translate(780.60,1198.16)"><circle r="10.8" fill="none" stroke="#0000c8" stroke-width="6.4"/></g>
<polyline points="108.98,682.95 170.04,768.66 237.88,822.67 305.72,874.88 373.56,946.31 441.40,993.55 509.24,1037.47 577.08,1083.64 644.92,1147.97 712.76,1187.56 780.60,1197.88" fill="none" stroke="#007000" stroke-width="6.4" stroke-linejoin="round"/>
<g transform="translate(108.98,682.95)"><path d="M0,-11.6V11.6M-11.5,0H11.5M-7.99,-7.99L7.99,7.99M-7.99,7.99L7.99,-7.99" stroke="#007000" stroke-width="6.4" fill="none"/></g>
<g transform="translate(170.04,768.66)"><path d="M0,-11.6V11.6M-11.5,0H11.5M-7.99,-7.99L7.99,7.99M-7.99,7.99L7.99,-7.99" stroke="#007000" stroke-width="6.4" fill="none"/></g>
<g transform="translate(237.88,822.67)"><path d="M0,-11.6V11.6M-11.5,0H11.5M-7.99,-7.99L7.99,7.99M-7.99,7.99L7.99,-7.99" stroke="#007000" stroke-width="6.4" fill="none"/></g>
<g transform="translate(305.72,874.88)"><path d="M0,-11.6V11.6M-11.5,0H11.5M-7.99,-7.99L7.99,7.99M-7.99,7.99L7.99,-7.99" stroke="#007000" stroke-width="6.4" fill="none"/></g>
<g transform="translate(373.56,946.31)"><path d="M0,-11.6V11.6M-11.5,0H11.5M-7.99,-7.99L7.99,7.99M-7.99,7.99L7.99,-7.99" stroke="#007000" stroke-width="6.4" fill="none"/></g>
<g transform="translate(441.40,993.55)"><path d="M0,-11.6V11.6M-11.5,0H11.5M-7.99,-7.99L7.99,7.99M-7.99,7.99L7.99,-7.99" stroke="#007000" stroke-width="6.4" fill="none"/></g>
<g transform="translate(509.24,1037.47)"><path d="M0,-11.6V11.6M-11.5,0H11.5M-7.99,-7.99L7.99,7.99M-7.99,7.99L7.99,-7.99" stroke="#007000" stroke-width="6.4" fill="none"/></g>
<g transform="translate(577.08,1083.64)"><path d="M0,-11.6V11.6M-11.5,0H11.5M-7.99,-7.99L7.99,7.99M-7.99,7.99L7.99,-7.99" stroke="#007000" stroke-width="6.4" fill="none"/></g>
<g transform="translate(644.92,1147.97)"><path d="M0,-11.6V11.6M-11.5,0H11.5M-7.99,-7.99L7.99,7.99M-7.99,7.99L7.99,-7.99" stroke="#007000" stroke-width="6.4" fill="none"/></g>
<g transform="translate(712.76,1187.56)"><path d="M0,-11.6V11.6M-11.5,0H11.5M-7.99,-7.99L7.99,7.99M-7.99,7.99L7.99,-7.99" stroke="#007000" stroke-width="6.4" fill="none"/></g>
<g transform="translate(780.60,1197.88)"><path d="M0,-11.6V11.6M-11.5,0H11.5M-7.99,-7.99L7.99,7.99M-7.99,7.99L7.99,-7.99" stroke="#007000" stroke-width="6.4" fill="none"/></g>
<polyline points="108.98,676.64 170.04,724.61 237.88,776.50 305.72,829.95 373.56,897.70 441.40,1058.71 509.24,1122.67 577.08,1127.70 644.92,1139.45 712.76,1174.56 780.60,1197.60" fill="none" stroke="#ff0000" stroke-width="6.4" stroke-linejoin="round"/>
<g transform="translate(108.98,676.64)"><path d="M0,-14.2L10.5,0L0,14.2L-10.5,0Z" fill="none" stroke="#ff0000" stroke-width="6.4" stroke-linejoin="miter" stroke-miterlimit="10"/></g>
<g transform="translate(170.04,724.61)"><path d="M0,-14.2L10.5,0L0,14.2L-10.5,0Z" fill="none" stroke="#ff0000" stroke-width="6.4" stroke-linejoin="miter" stroke-miterlimit="10"/></g>
<g transform="translate(237.88,776.50)"><path d="M0,-14.2L10.5,0L0,14.2L-10.5,0Z" fill="none" stroke="#ff0000" stroke-width="6.4" stroke-linejoin="miter" stroke-miterlimit="10"/></g>
<g transform="translate(305.72,829.95)"><path d="M0,-14.2L10.5,0L0,14.2L-10.5,0Z" fill="none" stroke="#ff0000" stroke-width="6.4" stroke-linejoin="miter" stroke-miterlimit="10"/></g>
<g transform="translate(373.56,897.70)"><path d="M0,-14.2L10.5,0L0,14.2L-10.5,0Z" fill="none" stroke="#ff0000" stroke-width="6.4" stroke-linejoin="miter" stroke-miterlimit="10"/></g>
<g transform="translate(441.40,1058.71)"><path d="M0,-14.2L10.5,0L0,14.2L-10.5,0Z" fill="none" stroke="#ff0000" stroke-width="6.4" stroke-linejoin="miter" stroke-miterlimit="10"/></g>
<g transform="translate(509.24,1122.67)"><path d="M0,-14.2L10.5,0L0,14.2L-10.5,0Z" fill="none" stroke="#ff0000" stroke-width="6.4" stroke-linejoin="miter" stroke-miterlimit="10"/></g>
<g transform="translate(577.08,1127.70)"><path d="M0,-14.2L10.5,0L0,14.2L-10.5,0Z" fill="none" stroke="#ff0000" stroke-width="6.4" stroke-linejoin="miter" stroke-miterlimit="10"/></g>
<g transform="translate(644.92,1139.45)"><path d="M0,-14.2L10.5,0L0,14.2L-10.5,0Z" fill="none" stroke="#ff0000" stroke-width="6.4" stroke-linejoin="miter" stroke-miterlimit="10"/></g>
<g transform="translate(712.76,1174.56)"><path d="M0,-14.2L10.5,0L0,14.2L-10.5,0Z" fill="none" stroke="#ff0000" stroke-width="6.4" stroke-linejoin="miter" stroke-miterlimit="10"/></g>
<g transform="translate(780.60,1197.60)"><path d="M0,-14.2L10.5,0L0,14.2L-10.5,0Z" fill="none" stroke="#ff0000" stroke-width="6.4" stroke-linejoin="miter" stroke-miterlimit="10"/></g>
<polyline points="108.98,681.75 170.04,731.80 237.88,809.49 305.72,899.63 373.56,952.72 441.40,1005.30 509.24,1130.37 577.08,1139.26 644.92,1142.03 712.76,1176.04 780.60,1197.88" fill="none" stroke="#00a896" stroke-width="6.4" stroke-linejoin="round"/>
<g transform="translate(108.98,681.75)"><rect x="-8.15" y="-8.15" width="16.3" height="16.3" fill="none" stroke="#00a896" stroke-width="6.4"/></g>
<g transform="translate(170.04,731.80)"><rect x="-8.15" y="-8.15" width="16.3" height="16.3" fill="none" stroke="#00a896" stroke-width="6.4"/></g>
<g transform="translate(237.88,809.49)"><rect x="-8.15" y="-8.15" width="16.3" height="16.3" fill="none" stroke="#00a896" stroke-width="6.4"/></g>
<g transform="translate(305.72,899.63)"><rect x="-8.15" y="-8.15" width="16.3" height="16.3" fill="none" stroke="#00a896" stroke-width="6.4"/></g>
<g transform="translate(373.56,952.72)"><rect x="-8.15" y="-8.15" width="16.3" height="16.3" fill="none" stroke="#00a896" stroke-width="6.4"/></g>
<g transform="translate(441.40,1005.30)"><rect x="-8.15" y="-8.15" width="16.3" height="16.3" fill="none" stroke="#00a896" stroke-width="6.4"/></g>
<g transform="translate(509.24,1130.37)"><rect x="-8.15" y="-8.15" width="16.3" height="16.3" fill="none" stroke="#00a896" stroke-width="6.4"/></g>
<g transform="translate(577.08,1139.26)"><rect x="-8.15" y="-8.15" width="16.3" height="16.3" fill="none" stroke="#00a896" stroke-width="6.4"/></g>
<g transform="translate(644.92,1142.03)"><rect x="-8.15" y="-8.15" width="16.3" height="16.3" fill="none" stroke="#00a896" stroke-width="6.4"/></g>
<g transform="translate(712.76,1176.04)"><rect x="-8.15" y="-8.15" width="16.3" height="16.3" fill="none" stroke="#00a896" stroke-width="6.4"/></g>
<g transform="translate(780.60,1197.88)"><rect x="-8.15" y="-8.15" width="16.3" height="16.3" fill="none" stroke="#00a896" stroke-width="6.4"/></g>
<polyline points="108.98,677.28 170.04,724.29 237.88,777.10 305.72,829.91 373.56,882.76 441.40,934.88 509.24,987.83 577.08,1040.51 644.92,1093.36 712.76,1145.90 780.60,1198.62" fill="none" stroke="#990099" stroke-width="6.4" stroke-linejoin="round"/>
<g transform="translate(108.98,677.28)"><polygon points="0.00,-20.60 -4.62,-6.37 -19.59,-6.37 -7.48,2.43 -12.11,16.67 -0.00,7.87 12.11,16.67 7.48,2.43 19.59,-6.37 4.62,-6.37" fill="#990099"/></g>
<g transform="translate(170.04,724.29)"><polygon points="0.00,-20.60 -4.62,-6.37 -19.59,-6.37 -7.48,2.43 -12.11,16.67 -0.00,7.87 12.11,16.67 7.48,2.43 19.59,-6.37 4.62,-6.37" fill="#990099"/></g>
<g transform="translate(237.88,777.10)"><polygon points="0.00,-20.60 -4.62,-6.37 -19.59,-6.37 -7.48,2.43 -12.11,16.67 -0.00,7.87 12.11,16.67 7.48,2.43 19.59,-6.37 4.62,-6.37" fill="#990099"/></g>
<g transform="translate(305.72,829.91)"><polygon points="0.00,-20.60 -4.62,-6.37 -19.59,-6.37 -7.48,2.43 -12.11,16.67 -0.00,7.87 12.11,16.67 7.48,2.43 19.59,-6.37 4.62,-6.37" fill="#990099"/></g>
<g transform="translate(373.56,882.76)"><polygon points="0.00,-20.60 -4.62,-6.37 -19.59,-6.37 -7.48,2.43 -12.11,16.67 -0.00,7.87 12.11,16.67 7.48,2.43 19.59,-6.37 4.62,-6.37" fill="#990099"/></g>
<g transform="translate(441.40,934.88)"><polygon points="0.00,-20.60 -4.62,-6.37 -19.59,-6.37 -7.48,2.43 -12.11,16.67 -0.00,7.87 12.11,16.67 7.48,2.43 19.59,-6.37 4.62,-6.37" fill="#990099"/></g>
<g transform="translate(509.24,987.83)"><polygon points="0.00,-20.60 -4.62,-6.37 -19.59,-6.37 -7.48,2.43 -12.11,16.67 -0.00,7.87 12.11,16.67 7.48,2.43 19.59,-6.37 4.62,-6.37" fill="#990099"/></g>
<g transform="translate(577.08,1040.51)"><polygon points="0.00,-20.60 -4.62,-6.37 -19.59,-6.37 -7.48,2.43 -12.11,16.67 -0.00,7.87 12.11,16.67 7.48,2.43 19.59,-6.37 4.62,-6.37" fill="#990099"/></g>
<g transform="translate(644.92,1093.36)"><polygon points="0.00,-20.60 -4.62,-6.37 -19.59,-6.37 -7.48,2.43 -12.11,16.67 -0.00,7.87 12.11,16.67 7.48,2.43 19.59,-6.37 4.62,-6.37" fill="#990099"/></g>
<g transform="translate(712.76,1145.90)"><polygon points="0.00,-20.60 -4.62,-6.37 -19.59,-6.37 -7.48,2.43 -12.11,16.67 -0.00,7.87 12.11,16.67 7.48,2.43 19.59,-6.37 4.62,-6.37" fill="#990099"/></g>
<g transform="translate(780.60,1198.62)"><polygon points="0.00,-20.60 -4.62,-6.37 -19.59,-6.37 -7.48,2.43 -12.11,16.67 -0.00,7.87 12.11,16.67 7.48,2.43 19.59,-6.37 4.62,-6.37" fill="#990099"/></g>
<polyline points="108.98,682.95 170.04,729.68 237.88,783.41 305.72,842.58 373.56,907.37 441.40,964.24 509.24,1039.82 577.08,1087.10 644.92,1138.43 712.76,1187.47 780.60,1197.88" fill="none" stroke="#9dab00" stroke-width="6.4" stroke-linejoin="round"/>
<g transform="translate(108.98,682.95)"><path d="M-7.65,-7.65L7.65,7.65M-7.65,7.65L7.65,-7.65" stroke="#9dab00" stroke-width="6.4" fill="none"/></g>
<g transform="translate(170.04,729.68)"><path d="M-7.65,-7.65L7.65,7.65M-7.65,7.65L7.65,-7.65" stroke="#9dab00" stroke-width="6.4" fill="none"/></g>
<g transform="translate(237.88,783.41)"><path d="M-7.65,-7.65L7.65,7.65M-7.65,7.65L7.65,-7.65" stroke="#9dab00" stroke-width="6.4" fill="none"/></g>
<g transform="translate(305.72,842.58)"><path d="M-7.65,-7.65L7.65,7.65M-7.65,7.65L7.65,-7.65" stroke="#9dab00" stroke-width="6.4" fill="none"/></g>
<g transform="translate(373.56,907.37)"><path d="M-7.65,-7.65L7.65,7.65M-7.65,7.65L7.65,-7.65" stroke="#9dab00" stroke-width="6.4" fill="none"/></g>
<g transform="translate(441.40,964.24)"><path d="M-7.65,-7.65L7.65,7.65M-7.65,7.65L7.65,-7.65" stroke="#9dab00" stroke-width="6.4" fill="none"/></g>
<g transform="translate(509.24,1039.82)"><path d="M-7.65,-7.65L7.65,7.65M-7.65,7.65L7.65,-7.65" stroke="#9dab00" stroke-width="6.4" fill="none"/></g>
<g transform="translate(577.08,1087.10)"><path d="M-7.65,-7.65L7.65,7.65M-7.65,7.65L7.65,-7.65" stroke="#9dab00" stroke-width="6.4" fill="none"/></g>
<g transform="translate(644.92,1138.43)"><path d="M-7.65,-7.65L7.65,7.65M-7.65,7.65L7.65,-7.65" stroke="#9dab00" stroke-width="6.4" fill="none"/></g>
<g transform="translate(712.76,1187.47)"><path d="M-7.65,-7.65L7.65,7.65M-7.65,7.65L7.65,-7.65" stroke="#9dab00" stroke-width="6.4" fill="none"/></g>
<g transform="translate(780.60,1197.88)"><path d="M-7.65,-7.65L7.65,7.65M-7.65,7.65L7.65,-7.65" stroke="#9dab00" stroke-width="6.4" fill="none"/></g>
<rect x="591.8" y="691.20" width="175.9" height="234.93" fill="#fff" stroke="#222222" stroke-width="1.9"/>
<path d="M598.20,713.02H663.60" stroke="#0000c8" stroke-width="6.4"/>
<g transform="translate(630.90,713.02)"><circle r="10.8" fill="none" stroke="#0000c8" stroke-width="6.4"/></g>
<text transform="translate(667.68,723.81) scale(1.0,1)" font-size="30.8" fill="#000">URank</text>
<path d="M598.20,751.27H663.60" stroke="#007000" stroke-width="6.4"/>
<g transform="translate(630.90,751.27)"><path d="M0,-11.6V11.6M-11.5,0H11.5M-7.99,-7.99L7.99,7.99M-7.99,7.99L7.99,-7.99" stroke="#007000" stroke-width="6.4" fill="none"/></g>
<text transform="translate(667.68,762.05) scale(1.0,1)" font-size="30.8" fill="#000">BC</text>
<path d="M598.20,789.52H663.60" stroke="#ff0000" stroke-width="6.4"/>
<g transform="translate(630.90,789.52)"><path d="M0,-14.2L10.5,0L0,14.2L-10.5,0Z" fill="none" stroke="#ff0000" stroke-width="6.4" stroke-linejoin="miter" stroke-miterlimit="10"/></g>
<text transform="translate(667.68,800.30) scale(1.0,1)" font-size="30.8" fill="#000">EC</text>
<path d="M598.20,827.76H663.60" stroke="#00a896" stroke-width="6.4"/>
<g transform="translate(630.90,827.76)"><rect x="-8.15" y="-8.15" width="16.3" height="16.3" fill="none" stroke="#00a896" stroke-width="6.4"/></g>
<text transform="translate(667.68,838.55) scale(1.0,1)" font-size="30.8" fill="#000">CC</text>
<path d="M598.20,866.01H663.60" stroke="#990099" stroke-width="6.4"/>
<g transform="translate(630.90,866.01)"><polygon points="0.00,-20.60 -4.62,-6.37 -19.59,-6.37 -7.48,2.43 -12.11,16.67 -0.00,7.87 12.11,16.67 7.48,2.43 19.59,-6.37 4.62,-6.37" fill="#990099"/></g>
<text transform="translate(667.68,876.79) scale(1.0,1)" font-size="30.8" fill="#000">SH</text>
<path d="M598.20,904.26H663.60" stroke="#9dab00" stroke-width="6.4"/>
<g transform="translate(630.90,904.26)"><path d="M-7.65,-7.65L7.65,7.65M-7.65,7.65L7.65,-7.65" stroke="#9dab00" stroke-width="6.4" fill="none"/></g>
<text transform="translate(667.68,915.04) scale(1.0,1)" font-size="30.8" fill="#000">DC</text>
<text transform="translate(39.86,683.69) scale(0.975,1)" font-size="31.6">4000</text>
<text transform="translate(39.64,814.29) scale(0.975,1)" font-size="31.6">3000</text>
<text transform="translate(39.27,944.68) scale(0.975,1)" font-size="31.6">2000</text>
<text transform="translate(39.77,1075.23) scale(0.975,1)" font-size="31.6">1000</text>
<text transform="translate(70.62,1205.83) scale(0.975,1)" font-size="31.6">0</text>
<text transform="translate(92.40,1239.52) scale(0.975,1)" font-size="31.6">0</text>
<text transform="translate(237.96,1239.44) scale(0.975,1)" font-size="31.6">0.2</text>
<text transform="translate(360.27,1239.44) scale(0.975,1)" font-size="31.6">0.4</text>
<text transform="translate(482.93,1239.44) scale(0.975,1)" font-size="31.6">0.6</text>
<text transform="translate(605.74,1239.44) scale(0.975,1)" font-size="31.6">0.8</text>
<text transform="translate(770.05,1239.60) scale(0.975,1)" font-size="31.6">1</text>
<text transform="translate(262.99,1276.41) scale(0.9886,1)" font-size="30.82" font-weight="normal" >Proportion of removed nodes</text>
<text transform="translate(115.48,1165.11) scale(1.0440,1)" font-size="30.16" font-weight="bold" >(c)</text>
<text transform="translate(609.97,1037.60) scale(0.9813,1)" font-size="31.03" font-weight="bold" >Facebook</text>
<text transform="translate(21.90,1114.55) rotate(-90) scale(0.9684,1)" font-size="31.40">Largest component size</text>
<rect x="960.4" y="673.18" width="677.70" height="521.11" fill="none" stroke="#222222" stroke-width="2"/>
<path d="M1095.92,1194.29v-7.37M1095.92,673.18v7.37" stroke="#222222" stroke-width="2"/>
<path d="M1231.44,1194.29v-7.37M1231.44,673.18v7.37" stroke="#222222" stroke-width="2"/>
<path d="M1366.96,1194.29v-7.37M1366.96,673.18v7.37" stroke="#222222" stroke-width="2"/>
<path d="M1502.48,1194.29v-7.37M1502.48,673.18v7.37" stroke="#222222" stroke-width="2"/>
<path d="M960.4,1064.52h8M1638.1,1064.52h-8" stroke="#222222" stroke-width="2"/>
<path d="M960.4,933.73h8M1638.1,933.73h-8" stroke="#222222" stroke-width="2"/>
<path d="M960.4,803.46h8M1638.1,803.46h-8" stroke="#222222" stroke-width="2"/>
<polyline points="967.18,686.77 1028.16,802.12 1095.92,922.49 1163.68,1038.48 1231.44,1173.64 1299.20,1190.83 1366.96,1193.04 1434.72,1193.96 1502.48,1193.23 1570.24,1193.73 1638.00,1193.55" fill="none" stroke="#0000c8" stroke-width="6.4" stroke-linejoin="round"/>
<g transform="translate(967.18,686.77)"><circle r="10.8" fill="none" stroke="#0000c8" stroke-width="6.4"/></g>
<g transform="translate(1028.16,802.12)"><circle r="10.8" fill="none" stroke="#0000c8" stroke-width="6.4"/></g>
<g transform="translate(1095.92,922.49)"><circle r="10.8" fill="none" stroke="#0000c8" stroke-width="6.4"/></g>
<g transform="translate(1163.68,1038.48)"><circle r="10.8" fill="none" stroke="#0000c8" stroke-width="6.4"/></g>
<g transform="translate(1231.44,1173.64)"><circle r="10.8" fill="none" stroke="#0000c8" stroke-width="6.4"/></g>
<g transform="translate(1299.20,1190.83)"><circle r="10.8" fill="none" stroke="#0000c8" stroke-width="6.4"/></g>
<g transform="translate(1366.96,1193.04)"><circle r="10.8" fill="none" stroke="#0000c8" stroke-width="6.4"/></g>
<g transform="translate(1434.72,1193.96)"><circle r="10.8" fill="none" stroke="#0000c8" stroke-width="6.4"/></g>
<g transform="translate(1502.48,1193.23)"><circle r="10.8" fill="none" stroke="#0000c8" stroke-width="6.4"/></g>
<g transform="translate(1570.24,1193.73)"><circle r="10.8" fill="none" stroke="#0000c8" stroke-width="6.4"/></g>
<g transform="translate(1638.00,1193.55)"><circle r="10.8" fill="none" stroke="#0000c8" stroke-width="6.4"/></g>
<polyline points="967.18,679.26 1028.16,749.31 1095.92,817.97 1163.68,882.95 1231.44,947.47 1299.20,1013.36 1366.96,1073.73 1434.72,1128.29 1502.48,1192.63 1570.24,1193.09 1638.00,1193.55" fill="none" stroke="#007000" stroke-width="6.4" stroke-linejoin="round"/>
<g transform="translate(967.18,679.26)"><path d="M0,-11.6V11.6M-11.5,0H11.5M-7.99,-7.99L7.99,7.99M-7.99,7.99L7.99,-7.99" stroke="#007000" stroke-width="6.4" fill="none"/></g>
<g transform="translate(1028.16,749.31)"><path d="M0,-11.6V11.6M-11.5,0H11.5M-7.99,-7.99L7.99,7.99M-7.99,7.99L7.99,-7.99" stroke="#007000" stroke-width="6.4" fill="none"/></g>
<g transform="translate(1095.92,817.97)"><path d="M0,-11.6V11.6M-11.5,0H11.5M-7.99,-7.99L7.99,7.99M-7.99,7.99L7.99,-7.99" stroke="#007000" stroke-width="6.4" fill="none"/></g>
<g transform="translate(1163.68,882.95)"><path d="M0,-11.6V11.6M-11.5,0H11.5M-7.99,-7.99L7.99,7.99M-7.99,7.99L7.99,-7.99" stroke="#007000" stroke-width="6.4" fill="none"/></g>
<g transform="translate(1231.44,947.47)"><path d="M0,-11.6V11.6M-11.5,0H11.5M-7.99,-7.99L7.99,7.99M-7.99,7.99L7.99,-7.99" stroke="#007000" stroke-width="6.4" fill="none"/></g>
<g transform="translate(1299.20,1013.36)"><path d="M0,-11.6V11.6M-11.5,0H11.5M-7.99,-7.99L7.99,7.99M-7.99,7.99L7.99,-7.99" stroke="#007000" stroke-width="6.4" fill="none"/></g>
<g transform="translate(1366.96,1073.73)"><path d="M0,-11.6V11.6M-11.5,0H11.5M-7.99,-7.99L7.99,7.99M-7.99,7.99L7.99,-7.99" stroke="#007000" stroke-width="6.4" fill="none"/></g>
<g transform="translate(1434.72,1128.29)"><path d="M0,-11.6V11.6M-11.5,0H11.5M-7.99,-7.99L7.99,7.99M-7.99,7.99L7.99,-7.99" stroke="#007000" stroke-width="6.4" fill="none"/></g>
<g transform="translate(1502.48,1192.63)"><path d="M0,-11.6V11.6M-11.5,0H11.5M-7.99,-7.99L7.99,7.99M-7.99,7.99L7.99,-7.99" stroke="#007000" stroke-width="6.4" fill="none"/></g>
<g transform="translate(1570.24,1193.09)"><path d="M0,-11.6V11.6M-11.5,0H11.5M-7.99,-7.99L7.99,7.99M-7.99,7.99L7.99,-7.99" stroke="#007000" stroke-width="6.4" fill="none"/></g>
<g transform="translate(1638.00,1193.55)"><path d="M0,-11.6V11.6M-11.5,0H11.5M-7.99,-7.99L7.99,7.99M-7.99,7.99L7.99,-7.99" stroke="#007000" stroke-width="6.4" fill="none"/></g>
<polyline points="967.18,678.85 1028.16,730.88 1095.92,793.64 1163.68,859.54 1231.44,925.12 1299.20,998.02 1366.96,1055.71 1434.72,1085.30 1502.48,1109.17 1570.24,1179.86 1638.00,1194.33" fill="none" stroke="#ff0000" stroke-width="6.4" stroke-linejoin="round"/>
<g transform="translate(967.18,678.85)"><path d="M0,-14.2L10.5,0L0,14.2L-10.5,0Z" fill="none" stroke="#ff0000" stroke-width="6.4" stroke-linejoin="miter" stroke-miterlimit="10"/></g>
<g transform="translate(1028.16,730.88)"><path d="M0,-14.2L10.5,0L0,14.2L-10.5,0Z" fill="none" stroke="#ff0000" stroke-width="6.4" stroke-linejoin="miter" stroke-miterlimit="10"/></g>
<g transform="translate(1095.92,793.64)"><path d="M0,-14.2L10.5,0L0,14.2L-10.5,0Z" fill="none" stroke="#ff0000" stroke-width="6.4" stroke-linejoin="miter" stroke-miterlimit="10"/></g>
<g transform="translate(1163.68,859.54)"><path d="M0,-14.2L10.5,0L0,14.2L-10.5,0Z" fill="none" stroke="#ff0000" stroke-width="6.4" stroke-linejoin="miter" stroke-miterlimit="10"/></g>
<g transform="translate(1231.44,925.12)"><path d="M0,-14.2L10.5,0L0,14.2L-10.5,0Z" fill="none" stroke="#ff0000" stroke-width="6.4" stroke-linejoin="miter" stroke-miterlimit="10"/></g>
<g transform="translate(1299.20,998.02)"><path d="M0,-14.2L10.5,0L0,14.2L-10.5,0Z" fill="none" stroke="#ff0000" stroke-width="6.4" stroke-linejoin="miter" stroke-miterlimit="10"/></g>
<g transform="translate(1366.96,1055.71)"><path d="M0,-14.2L10.5,0L0,14.2L-10.5,0Z" fill="none" stroke="#ff0000" stroke-width="6.4" stroke-linejoin="miter" stroke-miterlimit="10"/></g>
<g transform="translate(1434.72,1085.30)"><path d="M0,-14.2L10.5,0L0,14.2L-10.5,0Z" fill="none" stroke="#ff0000" stroke-width="6.4" stroke-linejoin="miter" stroke-miterlimit="10"/></g>
<g transform="translate(1502.48,1109.17)"><path d="M0,-14.2L10.5,0L0,14.2L-10.5,0Z" fill="none" stroke="#ff0000" stroke-width="6.4" stroke-linejoin="miter" stroke-miterlimit="10"/></g>
<g transform="translate(1570.24,1179.86)"><path d="M0,-14.2L10.5,0L0,14.2L-10.5,0Z" fill="none" stroke="#ff0000" stroke-width="6.4" stroke-linejoin="miter" stroke-miterlimit="10"/></g>
<g transform="translate(1638.00,1194.33)"><path d="M0,-14.2L10.5,0L0,14.2L-10.5,0Z" fill="none" stroke="#ff0000" stroke-width="6.4" stroke-linejoin="miter" stroke-miterlimit="10"/></g>
<polyline points="967.18,679.91 1028.16,748.02 1095.92,817.65 1163.68,890.41 1231.44,952.86 1299.20,1035.90 1366.96,1087.79 1434.72,1141.20 1502.48,1175.02 1570.24,1192.58 1638.00,1193.55" fill="none" stroke="#00a896" stroke-width="6.4" stroke-linejoin="round"/>
<g transform="translate(967.18,679.91)"><rect x="-8.15" y="-8.15" width="16.3" height="16.3" fill="none" stroke="#00a896" stroke-width="6.4"/></g>
<g transform="translate(1028.16,748.02)"><rect x="-8.15" y="-8.15" width="16.3" height="16.3" fill="none" stroke="#00a896" stroke-width="6.4"/></g>
<g transform="translate(1095.92,817.65)"><rect x="-8.15" y="-8.15" width="16.3" height="16.3" fill="none" stroke="#00a896" stroke-width="6.4"/></g>
<g transform="translate(1163.68,890.41)"><rect x="-8.15" y="-8.15" width="16.3" height="16.3" fill="none" stroke="#00a896" stroke-width="6.4"/></g>
<g transform="translate(1231.44,952.86)"><rect x="-8.15" y="-8.15" width="16.3" height="16.3" fill="none" stroke="#00a896" stroke-width="6.4"/></g>
<g transform="translate(1299.20,1035.90)"><rect x="-8.15" y="-8.15" width="16.3" height="16.3" fill="none" stroke="#00a896" stroke-width="6.4"/></g>
<g transform="translate(1366.96,1087.79)"><rect x="-8.15" y="-8.15" width="16.3" height="16.3" fill="none" stroke="#00a896" stroke-width="6.4"/></g>
<g transform="translate(1434.72,1141.20)"><rect x="-8.15" y="-8.15" width="16.3" height="16.3" fill="none" stroke="#00a896" stroke-width="6.4"/></g>
<g transform="translate(1502.48,1175.02)"><rect x="-8.15" y="-8.15" width="16.3" height="16.3" fill="none" stroke="#00a896" stroke-width="6.4"/></g>
<g transform="translate(1570.24,1192.58)"><rect x="-8.15" y="-8.15" width="16.3" height="16.3" fill="none" stroke="#00a896" stroke-width="6.4"/></g>
<g transform="translate(1638.00,1193.55)"><rect x="-8.15" y="-8.15" width="16.3" height="16.3" fill="none" stroke="#00a896" stroke-width="6.4"/></g>
<polyline points="967.18,678.66 1028.16,725.53 1095.92,778.25 1163.68,830.74 1231.44,881.89 1299.20,933.92 1366.96,986.22 1434.72,1038.39 1502.48,1090.69 1570.24,1142.72 1638.00,1194.47" fill="none" stroke="#990099" stroke-width="6.4" stroke-linejoin="round"/>
<g transform="translate(967.18,678.66)"><polygon points="0.00,-20.60 -4.62,-6.37 -19.59,-6.37 -7.48,2.43 -12.11,16.67 -0.00,7.87 12.11,16.67 7.48,2.43 19.59,-6.37 4.62,-6.37" fill="#990099"/></g>
<g transform="translate(1028.16,725.53)"><polygon points="0.00,-20.60 -4.62,-6.37 -19.59,-6.37 -7.48,2.43 -12.11,16.67 -0.00,7.87 12.11,16.67 7.48,2.43 19.59,-6.37 4.62,-6.37" fill="#990099"/></g>
<g transform="translate(1095.92,778.25)"><polygon points="0.00,-20.60 -4.62,-6.37 -19.59,-6.37 -7.48,2.43 -12.11,16.67 -0.00,7.87 12.11,16.67 7.48,2.43 19.59,-6.37 4.62,-6.37" fill="#990099"/></g>
<g transform="translate(1163.68,830.74)"><polygon points="0.00,-20.60 -4.62,-6.37 -19.59,-6.37 -7.48,2.43 -12.11,16.67 -0.00,7.87 12.11,16.67 7.48,2.43 19.59,-6.37 4.62,-6.37" fill="#990099"/></g>
<g transform="translate(1231.44,881.89)"><polygon points="0.00,-20.60 -4.62,-6.37 -19.59,-6.37 -7.48,2.43 -12.11,16.67 -0.00,7.87 12.11,16.67 7.48,2.43 19.59,-6.37 4.62,-6.37" fill="#990099"/></g>
<g transform="translate(1299.20,933.92)"><polygon points="0.00,-20.60 -4.62,-6.37 -19.59,-6.37 -7.48,2.43 -12.11,16.67 -0.00,7.87 12.11,16.67 7.48,2.43 19.59,-6.37 4.62,-6.37" fill="#990099"/></g>
<g transform="translate(1366.96,986.22)"><polygon points="0.00,-20.60 -4.62,-6.37 -19.59,-6.37 -7.48,2.43 -12.11,16.67 -0.00,7.87 12.11,16.67 7.48,2.43 19.59,-6.37 4.62,-6.37" fill="#990099"/></g>
<g transform="translate(1434.72,1038.39)"><polygon points="0.00,-20.60 -4.62,-6.37 -19.59,-6.37 -7.48,2.43 -12.11,16.67 -0.00,7.87 12.11,16.67 7.48,2.43 19.59,-6.37 4.62,-6.37" fill="#990099"/></g>
<g transform="translate(1502.48,1090.69)"><polygon points="0.00,-20.60 -4.62,-6.37 -19.59,-6.37 -7.48,2.43 -12.11,16.67 -0.00,7.87 12.11,16.67 7.48,2.43 19.59,-6.37 4.62,-6.37" fill="#990099"/></g>
<g transform="translate(1570.24,1142.72)"><polygon points="0.00,-20.60 -4.62,-6.37 -19.59,-6.37 -7.48,2.43 -12.11,16.67 -0.00,7.87 12.11,16.67 7.48,2.43 19.59,-6.37 4.62,-6.37" fill="#990099"/></g>
<g transform="translate(1638.00,1194.47)"><polygon points="0.00,-20.60 -4.62,-6.37 -19.59,-6.37 -7.48,2.43 -12.11,16.67 -0.00,7.87 12.11,16.67 7.48,2.43 19.59,-6.37 4.62,-6.37" fill="#990099"/></g>
<polyline points="967.18,678.53 1028.16,751.98 1095.92,815.02 1163.68,885.16 1231.44,946.64 1299.20,1015.02 1366.96,1074.47 1434.72,1131.71 1502.48,1160.14 1570.24,1191.01 1638.00,1193.09" fill="none" stroke="#9dab00" stroke-width="6.4" stroke-linejoin="round"/>
<g transform="translate(967.18,678.53)"><path d="M-7.65,-7.65L7.65,7.65M-7.65,7.65L7.65,-7.65" stroke="#9dab00" stroke-width="6.4" fill="none"/></g>
<g transform="translate(1028.16,751.98)"><path d="M-7.65,-7.65L7.65,7.65M-7.65,7.65L7.65,-7.65" stroke="#9dab00" stroke-width="6.4" fill="none"/></g>
<g transform="translate(1095.92,815.02)"><path d="M-7.65,-7.65L7.65,7.65M-7.65,7.65L7.65,-7.65" stroke="#9dab00" stroke-width="6.4" fill="none"/></g>
<g transform="translate(1163.68,885.16)"><path d="M-7.65,-7.65L7.65,7.65M-7.65,7.65L7.65,-7.65" stroke="#9dab00" stroke-width="6.4" fill="none"/></g>
<g transform="translate(1231.44,946.64)"><path d="M-7.65,-7.65L7.65,7.65M-7.65,7.65L7.65,-7.65" stroke="#9dab00" stroke-width="6.4" fill="none"/></g>
<g transform="translate(1299.20,1015.02)"><path d="M-7.65,-7.65L7.65,7.65M-7.65,7.65L7.65,-7.65" stroke="#9dab00" stroke-width="6.4" fill="none"/></g>
<g transform="translate(1366.96,1074.47)"><path d="M-7.65,-7.65L7.65,7.65M-7.65,7.65L7.65,-7.65" stroke="#9dab00" stroke-width="6.4" fill="none"/></g>
<g transform="translate(1434.72,1131.71)"><path d="M-7.65,-7.65L7.65,7.65M-7.65,7.65L7.65,-7.65" stroke="#9dab00" stroke-width="6.4" fill="none"/></g>
<g transform="translate(1502.48,1160.14)"><path d="M-7.65,-7.65L7.65,7.65M-7.65,7.65L7.65,-7.65" stroke="#9dab00" stroke-width="6.4" fill="none"/></g>
<g transform="translate(1570.24,1191.01)"><path d="M-7.65,-7.65L7.65,7.65M-7.65,7.65L7.65,-7.65" stroke="#9dab00" stroke-width="6.4" fill="none"/></g>
<g transform="translate(1638.00,1193.09)"><path d="M-7.65,-7.65L7.65,7.65M-7.65,7.65L7.65,-7.65" stroke="#9dab00" stroke-width="6.4" fill="none"/></g>
<rect x="1449.9" y="684.70" width="175.0" height="234.65" fill="#fff" stroke="#222222" stroke-width="1.9"/>
<path d="M1456.30,706.50H1521.70" stroke="#0000c8" stroke-width="6.4"/>
<g transform="translate(1489.00,706.50)"><circle r="10.8" fill="none" stroke="#0000c8" stroke-width="6.4"/></g>
<text transform="translate(1525.78,717.28) scale(1.0,1)" font-size="30.8" fill="#000">URank</text>
<path d="M1456.30,744.70H1521.70" stroke="#007000" stroke-width="6.4"/>
<g transform="translate(1489.00,744.70)"><path d="M0,-11.6V11.6M-11.5,0H11.5M-7.99,-7.99L7.99,7.99M-7.99,7.99L7.99,-7.99" stroke="#007000" stroke-width="6.4" fill="none"/></g>
<text transform="translate(1525.78,755.48) scale(1.0,1)" font-size="30.8" fill="#000">BC</text>
<path d="M1456.30,782.90H1521.70" stroke="#ff0000" stroke-width="6.4"/>
<g transform="translate(1489.00,782.90)"><path d="M0,-14.2L10.5,0L0,14.2L-10.5,0Z" fill="none" stroke="#ff0000" stroke-width="6.4" stroke-linejoin="miter" stroke-miterlimit="10"/></g>
<text transform="translate(1525.78,793.69) scale(1.0,1)" font-size="30.8" fill="#000">EC</text>
<path d="M1456.30,821.11H1521.70" stroke="#00a896" stroke-width="6.4"/>
<g transform="translate(1489.00,821.11)"><rect x="-8.15" y="-8.15" width="16.3" height="16.3" fill="none" stroke="#00a896" stroke-width="6.4"/></g>
<text transform="translate(1525.78,831.89) scale(1.0,1)" font-size="30.8" fill="#000">CC</text>
<path d="M1456.30,859.31H1521.70" stroke="#990099" stroke-width="6.4"/>
<g transform="translate(1489.00,859.31)"><polygon points="0.00,-20.60 -4.62,-6.37 -19.59,-6.37 -7.48,2.43 -12.11,16.67 -0.00,7.87 12.11,16.67 7.48,2.43 19.59,-6.37 4.62,-6.37" fill="#990099"/></g>
<text transform="translate(1525.78,870.09) scale(1.0,1)" font-size="30.8" fill="#000">SH</text>
<path d="M1456.30,897.51H1521.70" stroke="#9dab00" stroke-width="6.4"/>
<g transform="translate(1489.00,897.51)"><path d="M-7.65,-7.65L7.65,7.65M-7.65,7.65L7.65,-7.65" stroke="#9dab00" stroke-width="6.4" fill="none"/></g>
<text transform="translate(1525.78,908.29) scale(1.0,1)" font-size="30.8" fill="#000">DC</text>
<text transform="translate(893.02,689.61) scale(0.975,1)" font-size="31.6">2000</text>
<text transform="translate(893.82,815.33) scale(0.975,1)" font-size="31.6">1500</text>
<text transform="translate(894.17,945.74) scale(0.975,1)" font-size="31.6">1000</text>
<text transform="translate(913.13,1076.06) scale(0.975,1)" font-size="31.6">500</text>
<text transform="translate(928.80,1202.01) scale(0.975,1)" font-size="31.6">0</text>
<text transform="translate(950.85,1235.83) scale(0.975,1)" font-size="31.6">0</text>
<text transform="translate(1096.11,1235.75) scale(0.975,1)" font-size="31.6">0.2</text>
<text transform="translate(1218.25,1235.43) scale(0.975,1)" font-size="31.6">0.4</text>
<text transform="translate(1340.98,1235.75) scale(0.975,1)" font-size="31.6">0.6</text>
<text transform="translate(1463.39,1235.75) scale(0.975,1)" font-size="31.6">0.8</text>
<text transform="translate(1627.67,1235.91) scale(0.975,1)" font-size="31.6">1</text>
<text transform="translate(1121.19,1272.72) scale(0.9758,1)" font-size="31.17" font-weight="normal" >Proportion of removed nodes</text>
<text transform="translate(978.55,1161.05) scale(0.9879,1)" font-size="31.48" font-weight="bold" >(d)</text>
<text transform="translate(1479.47,1043.59) scale(0.9772,1)" font-size="31.10" font-weight="bold" >Hamster</text>
<text transform="translate(876.70,1127.91) rotate(-90) scale(0.9684,1)" font-size="31.32">Largest component size</text></g></svg></body></html>
